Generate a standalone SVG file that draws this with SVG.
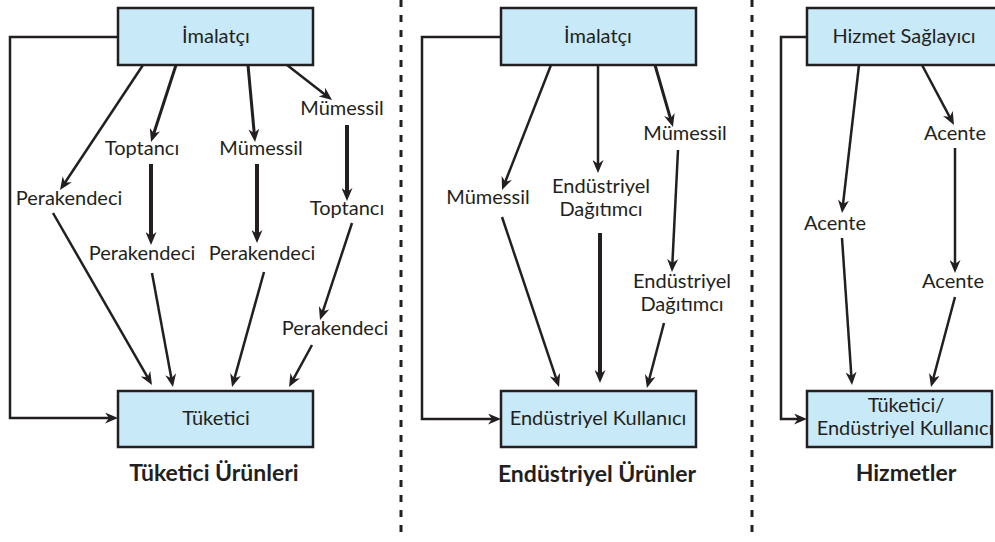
<svg xmlns="http://www.w3.org/2000/svg" width="995" height="542" viewBox="0 0 995 542">
  <style>
    .box { fill: #c8e9f8; stroke: #231f20; stroke-width: 2.5; }
    .lbl { font-family: Lato, "Open Sans", "Liberation Sans", sans-serif; font-size: 20px; fill: #231f20; text-anchor: middle; }
    .ttl { font-family: Lato, "Open Sans", "Liberation Sans", sans-serif; font-size: 23px; font-weight: bold; fill: #231f20; text-anchor: middle; }
    .ln { fill: none; stroke: #231f20; stroke-width: 2.5; marker-end: url(#head); }
    .thick { stroke-width: 4; }
    .mid { stroke-width: 3; }
    .sep { stroke: #231f20; stroke-width: 3; stroke-dasharray: 7 8; }
  </style>
  <defs>
    <marker id="head" viewBox="0 0 13 11" markerWidth="13" markerHeight="11" refX="6" refY="5.5" orient="auto" markerUnits="userSpaceOnUse">
      <path d="M0,0 L13,5.5 L0,11 L4,5.5 Z" fill="#231f20"/>
    </marker>
  </defs>

  <rect width="995" height="542" fill="#ffffff"/>

  <!-- panel separators -->
  <g id="separators">
    <line class="sep" x1="401" y1="0" x2="401" y2="540"/>
    <line class="sep" x1="752" y1="0" x2="752" y2="540"/>
  </g>

  <!-- connectors -->
  <g id="connectors">
    <!-- consumer goods -->
    <line class="ln" x1="143" y1="65" x2="63.9" y2="184.2"/>
    <line class="ln mid" x1="176" y1="65" x2="153.2" y2="135.3"/>
    <line class="ln mid" x1="248" y1="65" x2="254.4" y2="135"/>
    <line class="ln" x1="287" y1="65" x2="326.5" y2="95.7"/>
    <line class="ln thick" x1="151" y1="164" x2="151" y2="238"/>
    <line class="ln thick" x1="257" y1="164" x2="257" y2="236"/>
    <line class="ln thick" x1="347" y1="125" x2="347" y2="194"/>
    <line class="ln" x1="352" y1="223" x2="322.2" y2="313.4"/>
    <line class="ln" x1="53" y1="213" x2="148.5" y2="378.9"/>
    <line class="ln" x1="152" y1="273" x2="171.7" y2="380.1"/>
    <line class="ln" x1="264" y1="272" x2="233.9" y2="380.3"/>
    <line class="ln" x1="312" y1="345" x2="292.4" y2="380.9"/>
    <polyline class="ln" points="118,37 10,37 10,418 111,418"/>

    <!-- industrial goods -->
    <line class="ln" x1="551" y1="65" x2="504.6" y2="183.5"/>
    <line class="ln" x1="598" y1="65" x2="598" y2="166"/>
    <line class="ln mid" x1="655" y1="65" x2="671" y2="120.3"/>
    <line class="ln" x1="502" y1="217" x2="556.8" y2="380.4"/>
    <line class="ln thick" x1="600" y1="233" x2="600" y2="376"/>
    <line class="ln" x1="678" y1="150" x2="672.3" y2="265"/>
    <line class="ln" x1="664" y1="323" x2="648.7" y2="381.2"/>
    <polyline class="ln" points="501,37 422,37 422,419 494,419"/>

    <!-- services -->
    <line class="ln" x1="859" y1="65" x2="842.8" y2="206"/>
    <line class="ln" x1="922" y1="65" x2="950.7" y2="118.8"/>
    <line class="ln" x1="955" y1="148" x2="955" y2="266"/>
    <line class="ln" x1="842" y1="238" x2="851.5" y2="378"/>
    <line class="ln" x1="955" y1="297" x2="932.8" y2="380.2"/>
    <polyline class="ln" points="807,37 781,37 781,419 800,419"/>
  </g>

  <!-- consumer goods nodes -->
  <g id="imalatci-1">
    <rect class="box" x="118" y="8" width="195" height="57"/>
    <text class="lbl" x="216" y="43">İmalatçı</text>
  </g>
  <g id="toptanci-1"><text class="lbl" x="142" y="155">Toptancı</text></g>
  <g id="mumessil-1"><text class="lbl" x="261" y="155">Mümessil</text></g>
  <g id="mumessil-2"><text class="lbl" x="342" y="115">Mümessil</text></g>
  <g id="perakendeci-1"><text class="lbl" x="69" y="205">Perakendeci</text></g>
  <g id="toptanci-2"><text class="lbl" x="347" y="215">Toptancı</text></g>
  <g id="perakendeci-2"><text class="lbl" x="142" y="260">Perakendeci</text></g>
  <g id="perakendeci-3"><text class="lbl" x="262" y="260">Perakendeci</text></g>
  <g id="perakendeci-4"><text class="lbl" x="335" y="335">Perakendeci</text></g>
  <g id="tuketici">
    <rect class="box" x="118" y="391" width="195" height="56"/>
    <text class="lbl" x="216" y="425">Tüketici</text>
  </g>
  <g id="title-1"><text class="ttl" x="214" y="481">Tüketici Ürünleri</text></g>

  <!-- industrial goods nodes -->
  <g id="imalatci-2">
    <rect class="box" x="501" y="8" width="195" height="57"/>
    <text class="lbl" x="598" y="43">İmalatçı</text>
  </g>
  <g id="mumessil-3"><text class="lbl" x="685" y="140">Mümessil</text></g>
  <g id="mumessil-4"><text class="lbl" x="488" y="204">Mümessil</text></g>
  <g id="dagitimci-1">
    <text class="lbl" x="601" y="193">Endüstriyel</text>
    <text class="lbl" x="601" y="216">Dağıtımcı</text>
  </g>
  <g id="dagitimci-2">
    <text class="lbl" x="682" y="288">Endüstriyel</text>
    <text class="lbl" x="682" y="311">Dağıtımcı</text>
  </g>
  <g id="endustriyel-kullanici">
    <rect class="box" x="501" y="391" width="195" height="56"/>
    <text class="lbl" x="598" y="425">Endüstriyel Kullanıcı</text>
  </g>
  <g id="title-2"><text class="ttl" x="597" y="482">Endüstriyel Ürünler</text></g>

  <!-- services nodes -->
  <g id="hizmet-saglayici">
    <rect class="box" x="807" y="8" width="200" height="57"/>
    <text class="lbl" x="904" y="43">Hizmet Sağlayıcı</text>
  </g>
  <g id="acente-1"><text class="lbl" x="955" y="140">Acente</text></g>
  <g id="acente-2"><text class="lbl" x="835" y="230">Acente</text></g>
  <g id="acente-3"><text class="lbl" x="953" y="288">Acente</text></g>
  <g id="tuketici-endustriyel">
    <rect class="box" x="807" y="391" width="185" height="56"/>
    <text class="lbl" x="906" y="412">Tüketici/</text>
    <text class="lbl" x="905" y="435">Endüstriyel Kullanıcı</text>
  </g>
  <g id="title-3"><text class="ttl" x="906" y="481">Hizmetler</text></g>
</svg>
